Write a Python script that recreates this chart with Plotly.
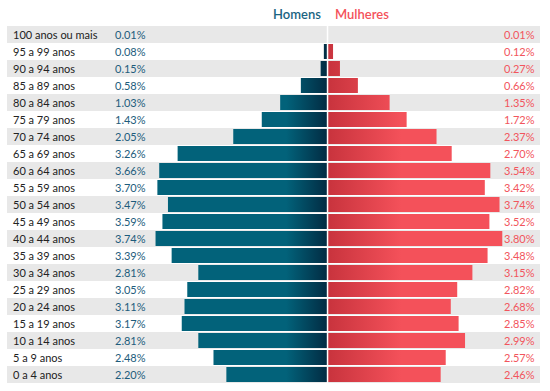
import plotly.graph_objects as go

categories = ["100 anos ou mais", "95 a 99 anos", "90 a 94 anos", "85 a 89 anos", "80 a 84 anos",
              "75 a 79 anos", "70 a 74 anos", "65 a 69 anos", "60 a 64 anos", "55 a 59 anos",
              "50 a 54 anos", "45 a 49 anos", "40 a 44 anos", "35 a 39 anos", "30 a 34 anos",
              "25 a 29 anos", "20 a 24 anos", "15 a 19 anos", "10 a 14 anos", "5 a 9 anos", "0 a 4 anos"]
homens = [0.01, 0.08, 0.15, 0.58, 1.03, 1.43, 2.05, 3.26, 3.66, 3.70, 3.47, 3.59, 3.74, 3.39,
          2.81, 3.05, 3.11, 3.17, 2.81, 2.48, 2.20]
mulheres = [0.01, 0.12, 0.27, 0.66, 1.35, 1.72, 2.37, 2.70, 3.54, 3.42, 3.74, 3.52, 3.80, 3.48,
            3.15, 2.82, 2.68, 2.85, 2.99, 2.57, 2.46]

FONT = "Lato"
HALF = 0.44
BLUE_TXT = "#1d5c7c"
RED_TXT = "#f2555d"


def polys(values, sign):
    xs, ys = [], []
    for i, v in enumerate(values):
        x = sign * v
        xs += [0, x, x, 0, 0, None]
        ys += [i - HALF, i - HALF, i + HALF, i + HALF, i - HALF, None]
    return xs, ys


fig = go.Figure()

mx, my = polys(homens, -1)
fig.add_trace(go.Scatter(
    x=mx, y=my, mode="lines", fill="toself", line=dict(width=0),
    fillgradient=dict(type="horizontal", start=-0.9, stop=0,
                      colorscale=[[0, "#02627a"], [1, "#022b42"]]),
    hoverinfo="skip", showlegend=False))

fx, fy = polys(mulheres, 1)
fig.add_trace(go.Scatter(
    x=fx, y=fy, mode="lines", fill="toself", line=dict(width=0),
    fillgradient=dict(type="horizontal", start=0, stop=1.6,
                      colorscale=[[0, "#c8333d"], [1, "#f4515a"]]),
    hoverinfo="skip", showlegend=False))

shapes = []
for i in range(len(categories)):
    if i % 2 == 0:
        shapes.append(dict(type="rect", xref="paper", yref="y", x0=0, x1=1,
                           y0=i - 0.5, y1=i + 0.5, fillcolor="#e8e8e8",
                           line=dict(width=0), layer="below"))
shapes.append(dict(type="line", xref="x", yref="paper", x0=0, x1=0, y0=0, y1=1,
                   line=dict(color="white", width=1.5), layer="above"))

annotations = []
for i, c in enumerate(categories):
    annotations.append(dict(text=c, xref="paper", yref="y", x=0, y=i, xshift=4,
                            xanchor="left", yanchor="middle", showarrow=False,
                            font=dict(family=FONT, size=11, color="#222222")))
    annotations.append(dict(text=f"{homens[i]:.2f}%", xref="paper", yref="y", x=0.2326, y=i,
                            xanchor="center", yanchor="middle", showarrow=False,
                            font=dict(family=FONT, size=11, color=BLUE_TXT)))
    annotations.append(dict(text=f"{mulheres[i]:.2f}%", xref="paper", yref="y", x=0.994, y=i,
                            xanchor="right", yanchor="middle", showarrow=False,
                            font=dict(family=FONT, size=11, color=RED_TXT)))

annotations.append(dict(text="Homens", xref="x", yref="paper", x=0, xshift=-5, y=1.034,
                        xanchor="right", yanchor="middle", showarrow=False,
                        font=dict(family=FONT, size=13, color="#1b6482", weight=600)))
annotations.append(dict(text="Mulheres", xref="x", yref="paper", x=0, xshift=5, y=1.034,
                        xanchor="left", yanchor="middle", showarrow=False,
                        font=dict(family=FONT, size=13, color="#f4515a", weight=600)))

fig.update_layout(
    width=550, height=391,
    margin=dict(l=7, r=10, t=26, b=8),
    paper_bgcolor="white", plot_bgcolor="white",
    xaxis=dict(range=[-6.97, 4.62], visible=False, fixedrange=True),
    yaxis=dict(range=[20.5, -0.5], visible=False, fixedrange=True),
    shapes=shapes, annotations=annotations,
    showlegend=False,
)

fig.write_html("out.html", config={"displayModeBar": False},
               post_script="document.body.style.margin='0px';document.body.style.overflow='hidden';")
